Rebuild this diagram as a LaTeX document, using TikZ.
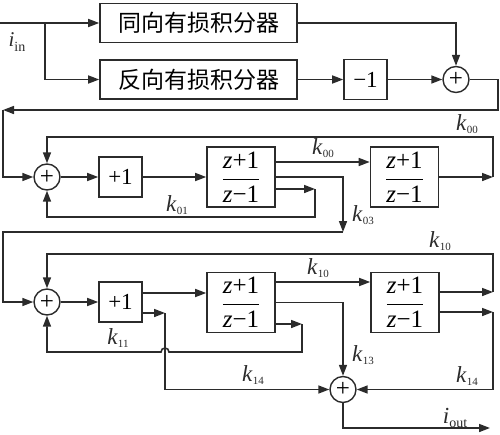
\documentclass[tikz,border=0pt]{standalone}
\usepackage{fontspec}
\setmainfont{Liberation Serif}
\newfontfamily\cjk{Noto Sans CJK SC}
\usepackage{tikz}
\usetikzlibrary{arrows.meta}
\usetikzlibrary{calc}
\usetikzlibrary{positioning}
\definecolor{myblack}{HTML}{2B2B2B}
\newcommand{\kl}[1]{\textit{k}\raisebox{-0.12em}{\fontsize{11}{11}\selectfont #1}}
\newcommand{\ilab}[1]{\textit{i}\raisebox{-0.2em}{\fontsize{14}{14}\selectfont #1}}
\newcommand{\tff}{$\displaystyle\frac{\mbox{\textit{z}+1}}{\mbox{\textit{z}−1}}$}
\tikzset{x=1pt, y=-1pt, every text node part/.style={align=center}}
\tikzstyle{block} = [draw=myblack, fill=white, line width=1.6pt, minimum width=43pt, minimum height=40pt, inner sep=0pt, font={\fontsize{23}{26}\selectfont}]
\tikzstyle{integ} = [block, minimum width=197pt, minimum height=39pt, font={\cjk\fontsize{23}{26}\selectfont}]
\tikzstyle{tf} = [block, minimum width=68pt, minimum height=60pt, font={\fontsize{25}{28}\selectfont}]
\tikzstyle{sum} = [draw=myblack, circle, line width=1.4pt, minimum size=26pt, inner sep=0pt, font={\fontsize{25}{25}\selectfont}]
\tikzstyle{lbl} = [inner sep=1pt, text=myblack, font={\fontsize{23}{26}\selectfont}]
\tikzstyle{ln} = [draw=myblack, line width=1.6pt, -{Triangle[length=11pt,width=8pt]}]

\begin{document}
\begin{tikzpicture}
  \useasboundingbox (0,0) rectangle (500,434);
  \coordinate (in) at (0,23);
  \coordinate (br) at (45,23);
  \node[lbl, font={\fontsize{21}{24}\selectfont}] (iin) at (17,42) {\ilab{in}};
  \node[integ] (same) at (198.5,23) {同向有损积分器};
  \node[integ] (rev) at (198.5,79.5) {反向有损积分器};
  \node[block] (neg) at (365.5,79.5) {−1};
  \node[sum] (s0) at (456,79.5) {+};
  \draw[ln] (in) -- (same.west);
  \draw[ln] (br) |- (rev.west);
  \draw[ln] (same.east) -| (s0.north);
  \draw[ln] (rev) -- (neg);
  \draw[ln] (neg) -- (s0);
  \coordinate (t0) at (3,110);
  \draw[ln] (s0.east) -- ++(28,0) |- (t0);
  % first stage
  \node[sum] (sa) at (47,177) {+};
  \node[block] (pa) at (120.5,177) {+1};
  \node[tf] (ta) at (241,177) {\tff};
  \node[tf] (tb) at (404.5,177) {\tff};
  \draw[ln] (t0) |- (sa.west);
  \draw[ln] (sa) -- (pa);
  \draw[ln] (pa) -- (ta);
  \draw[ln] ([yshift=15pt]ta.east) -- ([yshift=15pt]tb.west);
  \coordinate (ra) at (493,177);
  \draw[ln] (tb.east) -- (ra);
  \draw[ln] (ra) -- ++(0,-40) -| (sa.north);
  \coordinate (ca) at (315,189);
  \draw[ln] ([yshift=-12pt]ta.east) -- (ca);
  \draw[ln] (ca) -- ++(0,28) -| (sa.south);
  \coordinate (da) at (343,232);
  \draw[ln] (ta.east) -| (da);
  \node[lbl] (k00a) at (467,124) {\kl{00}};
  \node[lbl] (k00b) at (323,148) {\kl{00}};
  \node[lbl] (k01) at (177,205) {\kl{01}};
  \node[lbl] (k03) at (363,215) {\kl{03}};
  % second stage
  \node[sum] (sb) at (47,302) {+};
  \node[block] (pb) at (120.5,302) {+1};
  \node[tf] (tc) at (241,302.5) {\tff};
  \node[tf] (td) at (405,302.5) {\tff};
  \node[sum] (sc) at (343,389.5) {+};
  \draw[ln] (da) -- ++(-340,0) |- (sb.west);
  \draw[ln] (sb) -- (pb);
  \draw[ln] ([yshift=9pt]pb.east) -- ([yshift=9pt]pb.east -| tc.west);
  \coordinate (cb) at (165,313);
  \draw[ln] ([yshift=-11pt]pb.east) -- (cb);
  \draw[ln] (cb) |- (sc.west);
  \draw[ln] ([yshift=20.5pt]tc.east) -- ([yshift=20.5pt]td.west);
  \draw[ln] (tc.east) -| (sc.north);
  \coordinate (eb) at (302,324);
  \coordinate (jp) at (165,352);
  \draw[ln] ([yshift=-21.5pt]tc.east) -- (eb);
  \draw[ln] (eb) |- ([xshift=4pt]jp) arc[start angle=0, end angle=-180, radius=4] -| (sb.south);
  \coordinate (rb) at (493,292);
  \draw[ln] ([yshift=10.5pt]td.east) -- (rb);
  \draw[ln] (rb) -- ++(0,-38) -| (sb.north);
  \coordinate (gb) at (493,312);
  \draw[ln] ([yshift=-9.5pt]td.east) -- (gb);
  \draw[ln] (gb) |- (sc.east);
  \coordinate (out) at (490,428);
  \draw[ln] (sc.south) |- (out);
  \node[lbl] (k10a) at (440,241) {\kl{10}};
  \node[lbl] (k10b) at (318,268) {\kl{10}};
  \node[lbl] (k11) at (118,338) {\kl{11}};
  \node[lbl] (k13) at (363,355) {\kl{13}};
  \node[lbl] (k14a) at (253,375) {\kl{14}};
  \node[lbl] (k14b) at (467,376) {\kl{14}};
  \node[lbl] (iout) at (455,418) {\ilab{out}};
\end{tikzpicture}
\end{document}
